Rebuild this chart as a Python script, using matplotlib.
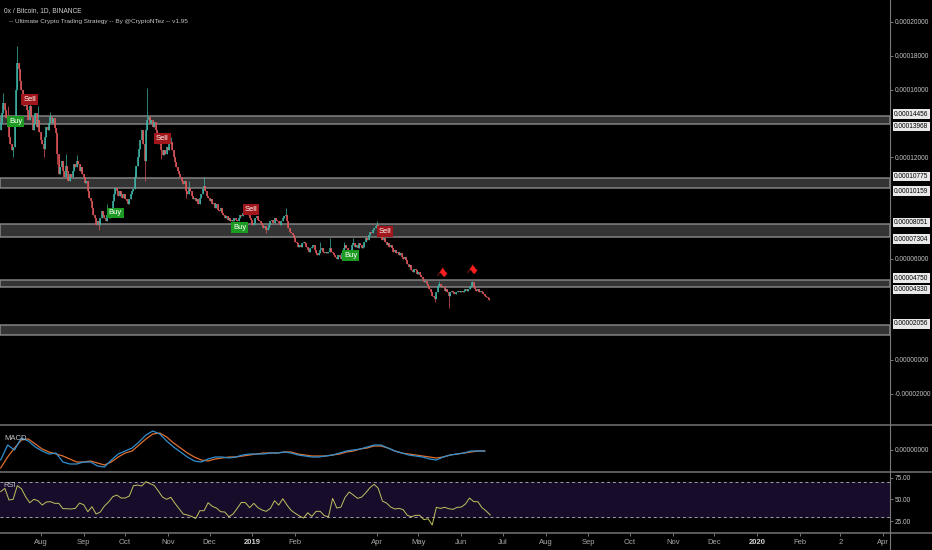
import pandas as pd
import matplotlib
matplotlib.use("Agg")
import matplotlib.pyplot as plt
from matplotlib import font_manager
from matplotlib.lines import Line2D
from matplotlib.ticker import FuncFormatter

plt.rcParams['font.family'] = ['Liberation Sans', 'DejaVu Sans']

# narrow face for the price scale if it is installed
_names = {f.name for f in font_manager.fontManager.ttflist}
if 'Liberation Sans Narrow' in _names:
    AXFONT, AXSIZE = 'Liberation Sans Narrow', 5.6
else:
    AXFONT, AXSIZE = 'Liberation Sans', 4.7

# daily closes of ZRX/BTC in micro-BTC, starting 2018-07-03
start = "2018-07-03"
closes = [
    140, 146, 152, 148, 143, 138, 132, 128, 124, 126,
    140, 160, 176, 172, 165, 160, 152, 150, 155, 148,
    142, 150, 144, 136, 140, 146, 138, 142, 135, 130,
    128, 125, 132, 138, 136, 140, 144, 140, 143, 137,
    134, 122, 110, 114, 118, 112, 108, 115, 112, 106,
    110, 108, 112, 116, 114, 118, 116, 112, 114, 110,
    108, 105, 106, 100, 96, 94, 90, 86, 84, 80,
    82, 80, 84, 88, 86, 84, 82, 86, 84, 88,
    90, 94, 98, 102, 100, 97, 100, 98, 96, 98,
    95, 94, 92, 95, 98, 100, 101, 108, 115, 120,
    125, 130, 136, 128, 118, 136, 142, 144, 140, 142,
    138, 141, 136, 132, 128, 130, 124, 121, 124, 122,
    126, 124, 128, 129, 124, 120, 117, 114, 112, 110,
    108, 106, 104, 106, 100, 98, 102, 100, 97, 95,
    96, 94, 95, 92, 96, 98, 101, 103, 100, 97,
    96, 94, 95, 92, 93, 90, 92, 89, 88, 90,
    87, 86, 84, 85, 83, 84, 82, 83, 82, 84,
    83, 82, 84, 86, 85, 87, 89, 90, 88, 86,
    84, 83, 80, 81, 84, 85, 83, 82, 81, 80,
    78, 79, 77, 78, 80, 82, 83, 81, 84, 83,
    82, 81, 80, 82, 84, 85, 86, 82, 78, 76,
    75, 74, 72, 70, 69, 67, 68, 67, 69, 70,
    69, 67, 65, 64, 66, 67, 68, 65, 63, 62,
    63, 65, 66, 64, 63, 64, 63, 64, 66, 64,
    63, 62, 61, 60, 62, 61, 60, 63, 66, 68,
    66, 64, 63, 65, 68, 69, 67, 68, 66, 69,
    68, 66, 67, 70, 72, 71, 74, 76, 75, 77,
    78, 79, 80, 76, 73, 74, 71, 72, 70, 68,
    69, 67, 68, 66, 64, 65, 63, 64, 62, 63,
    61, 60, 61, 59, 57, 55, 56, 53, 52, 54,
    53, 51, 52, 50, 49, 48, 46, 47, 45, 44,
    42, 40, 38, 37, 36, 40, 44, 45, 43, 44,
    43, 41, 42, 40, 38, 40, 41, 40, 39, 40,
    40, 41, 40, 41, 40, 41, 42, 41, 42, 43,
    44, 46, 43, 42, 41, 42, 40, 41, 40, 39,
    38, 37, 36.5, 35.5,
]
first_open = 136
wick_hi = {2: 158, 5: 150, 12: 186, 21: 156, 27: 150, 36: 147, 47: 122, 55: 121,
           77: 92, 97: 112, 106: 161, 123: 132, 136: 106, 147: 108, 175: 92,
           206: 90, 231: 70, 238: 72, 248: 70, 255: 72, 272: 82, 317: 47, 341: 47}
wick_lo = {9: 120, 31: 120, 41: 116, 71: 77, 104: 106, 116: 119, 134: 96,
           192: 75, 314: 34, 324: 31}

# support / resistance zones (micro-BTC)
zone_top = [144.56, 107.75, 80.51, 47.50, 20.56]
zone_bot = [139.68, 101.59, 73.04, 43.30, 14.80]
zone_labels = [(144.56, "0.00014456"), (139.68, "0.00013968"),
               (107.75, "0.00010775"), (101.59, "0.00010159"),
               (80.51, "0.00008051"), (73.04, "0.00007304"),
               (47.50, "0.00004750"), (43.30, "0.00004330"),
               (20.56, "0.00002056")]

# strategy signals: day index and label level (micro-BTC)
buy_days = [11, 83, 173, 253]
buy_at = [141, 87, 78.5, 62]
sell_days = [21, 117, 181, 278]
sell_at = [154, 131, 89, 76]
flag_days = [318, 340]
flag_at = [49.7, 52]

# MACD (every 5 days) and RSI (every 3 days)
macd_line = [-5, 2.5, 0, 6, 4.5, 1.5, -0.5, -2, -1.5, -6,
             -7, -7, -6, -6, -8, -8.5, -5, -2, -0.5, 1,
             4, 7.5, 9.5, 8, 4.5, 1.5, -1, -3.5, -5.5, -6,
             -4.5, -3.5, -3.5, -4, -3.5, -2.5, -2, -2, -2, -1.5,
             -1.5, -1, -1.5, -2.5, -3, -3.5, -3.5, -3, -2.5, -1.5,
             -0.5, 0, 0.5, 1.5, 2.5, 2.5, 1, -0.5, -1.5, -2.5,
             -3, -3.5, -4.5, -5, -3.5, -2.5, -2, -1.5, -0.5, -0.5, -0.5]
macd_signal = [-9, -3.5, 1, 5, 5.5, 3, 0.5, -1, -2, -3,
               -4.5, -6, -6, -5.5, -6.5, -7.5, -6, -3.5, -1.5, -0.5,
               2.5, 5.5, 8, 8.5, 6.5, 3.5, 1, -1.5, -3.5, -5,
               -5.5, -4.5, -4, -3.5, -3.5, -3, -2.5, -2, -1.5, -1.5,
               -1.5, -1, -1, -2, -2.5, -3, -3, -3, -2.5, -2,
               -1, -0.5, 0.5, 1, 2, 2, 1, -0.5, -1.5, -2,
               -2.5, -3, -3.5, -4, -3.5, -2.5, -2, -1.5, -1, -0.5, -0.5]
rsi_vals = [58.8, 62.6, 49.2, 50, 65.7, 62.2, 53, 46.1, 50, 48.4,
            43.4, 46.9, 47.3, 45.4, 45.4, 39.2, 39.2, 38.9, 39.6, 45.7,
            43.8, 35.8, 41.5, 33.1, 35.4, 42.3, 46.9, 53, 54.9, 51.5,
            51.5, 53.8, 65.7, 66.4, 65.3, 70.3, 68, 66, 59.5, 52.6,
            50, 52.3, 45.4, 39.2, 33.1, 32, 30.4, 28, 36.9, 36.9,
            46.1, 41.9, 40, 35.8, 35.4, 30, 33.1, 39.6, 46.5, 46.1,
            40.4, 45.4, 40.4, 37.7, 36.2, 39.6, 48.4, 43.4, 50.7, 43.4,
            37.3, 33.9, 30.8, 28.5, 34.6, 30.4, 36.2, 36.2, 31.2, 30,
            51.1, 40, 41.1, 52.3, 58.4, 54.9, 51.1, 52.6, 57.6, 63.4,
            67.2, 62.6, 48, 45.7, 41.1, 38.9, 39.6, 38.1, 31.6, 30,
            31.6, 31.6, 26.6, 27.7, 20.5, 40.8, 39.6, 40.8, 39.2, 38.5,
            40.8, 41.1, 44.6, 51.5, 47.3, 47.3, 40.4, 36.6, 32]

price_ticks = [200, 180, 160, 120, 60, 0, -20]
tick_dates = ["2018-08-01", "2018-09-01", "2018-10-01", "2018-11-01", "2018-12-01",
              "2019-01-01", "2019-02-01", "2019-04-01", "2019-05-01", "2019-06-01",
              "2019-07-01", "2019-08-01", "2019-09-01", "2019-10-01", "2019-11-01",
              "2019-12-01", "2020-01-01", "2020-02-01", "2020-03-01", "2020-04-01"]
tick_labels = ["Aug", "Sep", "Oct", "Nov", "Dec", "2019", "Feb", "Apr", "May", "Jun",
               "Jul", "Aug", "Sep", "Oct", "Nov", "Dec", "2020", "Feb", "2", "Apr"]

U = 1e-6
BG = '#000000'
GRID = '#6a6a6a'
TXT = '#c4c4c4'
UP = '#3fb6a8'
DOWN = '#e2575a'

dates = pd.date_range(start, periods=len(closes), freq="D")
opens = [first_open] + closes[:-1]
highs = [wick_hi.get(i, max(o, c)) for i, (o, c) in enumerate(zip(opens, closes))]
lows = [wick_lo.get(i, min(o, c)) for i, (o, c) in enumerate(zip(opens, closes))]
cols = [UP if c >= o else DOWN for o, c in zip(opens, closes)]

fig = plt.figure(figsize=(9.32, 5.5), dpi=100, facecolor=BG)
right = 890 / 932
ax = fig.add_axes([0, 1 - 425 / 550, right, 425 / 550], facecolor=BG)
ax_m = fig.add_axes([0, 1 - 472 / 550, right, 47 / 550], facecolor=BG, sharex=ax)
ax_r = fig.add_axes([0, 1 - 533 / 550, right, 61 / 550], facecolor=BG, sharex=ax)

for a in (ax, ax_m, ax_r):
    for s in a.spines.values():
        s.set_visible(False)
    a.yaxis.tick_right()
    a.tick_params(axis='y', colors='#8a8a8a', labelcolor=TXT, labelsize=AXSIZE,
                  length=2, width=0.6, pad=1.2)
    a.tick_params(axis='x', bottom=False, labelbottom=False)

# zones
for top, bot in zip(zone_top, zone_bot):
    ax.axhspan(bot * U, top * U, facecolor='#3a3a3a', edgecolor='#8e8e8e',
               lw=1.1, alpha=0.9, zorder=1)

# candles
ax.vlines(dates, [l * U for l in lows], [h * U for h in highs], colors=cols,
          lw=0.5, zorder=2)
body_lo = [min(o, c) * U for o, c in zip(opens, closes)]
body_hi = [max(max(o, c), min(o, c) + 0.4) * U for o, c in zip(opens, closes)]
ax.vlines(dates, body_lo, body_hi, colors=cols, lw=1.1, zorder=3)

# signals
for d, p in zip(buy_days, buy_at):
    ax.text(dates[d], p * U, "Buy", color='white', fontsize=5.5, ha='center',
            va='center', zorder=5,
            bbox=dict(boxstyle='square,pad=0.25', fc='#1c9a22', ec='none'))
for d, p in zip(sell_days, sell_at):
    ax.text(dates[d], p * U, "Sell", color='white', fontsize=5.5, ha='center',
            va='center', zorder=5,
            bbox=dict(boxstyle='square,pad=0.25', fc='#a0161a', ec='none'))
for d, p in zip(flag_days, flag_at):
    ax.text(dates[d], p * U, "\u2691", color='#ff2020', fontsize=9.5, rotation=-35,
            ha='center', va='center', family='DejaVu Sans', zorder=5)

ax.set_ylim(-38.5 * U, 213 * U)
ax.set_yticks([t * U for t in price_ticks])
ax.yaxis.set_major_formatter(FuncFormatter(lambda v, p: f"{v:.8f}"))

for i, (val, lab) in enumerate(zone_labels):
    off = 1 if i % 2 == 0 else -2
    ax.annotate(lab, xy=(1.0, val * U), xycoords=('axes fraction', 'data'),
                xytext=(3, off), textcoords='offset points', fontsize=AXSIZE,
                family=AXFONT, color='black', ha='left', va='center',
                annotation_clip=False,
                bbox=dict(boxstyle='square,pad=0.2', fc='#e8e8e8', ec='none'))

# MACD panel
mdates_ = pd.date_range(start, periods=len(macd_line), freq="5D")
ax_m.plot(mdates_, macd_signal, color='#e07030', lw=0.9)
ax_m.plot(mdates_, macd_line, color='#2f8fd0', lw=0.9)
ax_m.set_ylim(-11, 12.5)
ax_m.set_yticks([0])
ax_m.set_yticklabels(["0.00000000"])
ax_m.text(0.005, 0.68, "MACD", transform=ax_m.transAxes, color=TXT, fontsize=5.5)

# RSI panel
rdates = pd.date_range(start, periods=len(rsi_vals), freq="3D")
ax_r.axhspan(30, 70, color='#170c2a', zorder=0)
ax_r.axhline(70, color='#a0a0a0', lw=0.7, ls=(0, (3, 3)))
ax_r.axhline(30, color='#a0a0a0', lw=0.7, ls=(0, (3, 3)))
ax_r.plot(rdates, rsi_vals, color='#c2c160', lw=0.7)
ax_r.set_ylim(11.3, 81.4)
ax_r.set_yticks([25, 50, 75])
ax_r.set_yticklabels(["25.00", "50.00", "75.00"])
ax_r.text(0.004, 0.76, "RSI", transform=ax_r.transAxes, color=TXT, fontsize=5.5)

ax_r.tick_params(axis='x', bottom=True, labelbottom=True, colors='#8a8a8a',
                 labelcolor='#aaaaaa', labelsize=5.5, length=2, width=0.6, pad=2)
ax_r.set_xticks(pd.to_datetime(tick_dates))
ax_r.set_xticklabels(tick_labels)
for t in ax_r.get_xticklabels():
    if t.get_text() in ("2019", "2020"):
        t.set_fontweight('bold')
        t.set_color('#d0d0d0')
for a in (ax, ax_m, ax_r):
    for t in a.get_yticklabels():
        t.set_family(AXFONT)
ax.set_xlim(pd.Timestamp("2018-07-02 12:00"), pd.Timestamp("2020-04-06"))

# panel separators and price-axis line
for yy in (425, 472, 533):
    fig.add_artist(Line2D([0, 1], [1 - yy / 550] * 2, color=GRID, lw=1.2))
fig.add_artist(Line2D([right, right], [0, 1], color='#7a7a7a', lw=0.8))

fig.text(0.004, 1 - 11 / 550, "0x / Bitcoin, 1D, BINANCE", color='#d0d0d0',
         fontsize=4.8, va='center')
fig.text(0.010, 1 - 22 / 550,
         "-- Ultimate Crypto Trading Strategy -- By @CryptoNTez -- v1.95",
         color='#c8c8c8', fontsize=4.6, va='center')

fig.savefig("out.png", dpi=100, facecolor=BG)
